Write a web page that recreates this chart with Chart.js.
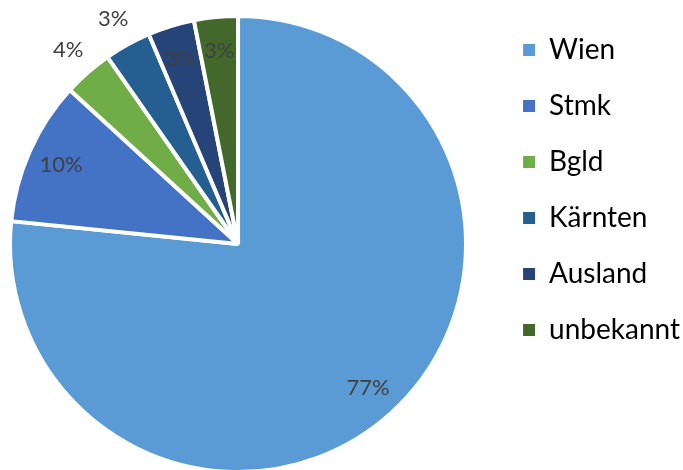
<!DOCTYPE html>
<html>
<head>
<meta charset="utf-8">
<script src="https://cdn.jsdelivr.net/npm/chart.js@4"></script>
<style>
  html, body { margin: 0; padding: 0; background: #fff; overflow: hidden; }
  body { width: 683px; height: 470px; position: relative; }
  #wrap { position: absolute; left: -19px; top: 0; width: 709px; height: 480px; }
</style>
</head>
<body>
<div id="wrap"><canvas id="chart"></canvas></div>
<script>
const regions = ['Wien', 'Stmk', 'Bgld', 'Kärnten', 'Ausland', 'unbekannt'];
const shares = [76.6, 10.2, 3.5, 3.3, 3.3, 3.1];
const colors = ['#5B9BD5', '#4472C4', '#70AD47', '#255E91', '#264478', '#43682B'];

// percentage labels, drawn inside the slice or just outside it
const pctLabels = {
  id: 'pctLabels',
  afterDatasetsDraw(chart, args, opts) {
    const ctx = chart.ctx;
    const meta = chart.getDatasetMeta(0);
    const data = chart.data.datasets[0].data;
    const total = data.reduce((a, b) => a + b, 0);
    ctx.save();
    ctx.font = opts.font;
    ctx.fillStyle = opts.color;
    ctx.textAlign = 'center';
    ctx.textBaseline = 'middle';
    meta.data.forEach((arc, i) => {
      const p = arc.getProps(['x', 'y', 'startAngle', 'endAngle', 'outerRadius'], true);
      const mid = (p.startAngle + p.endAngle) / 2;
      const r = p.outerRadius * (opts.outside.includes(i) ? 1.13 : 0.85);
      const txt = Math.round(data[i] / total * 100) + '%';
      ctx.fillText(txt, p.x + Math.cos(mid) * r, p.y + Math.sin(mid) * r);
    });
    ctx.restore();
  }
};

new Chart(document.getElementById('chart'), {
  type: 'pie',
  data: {
    labels: regions,
    datasets: [{
      data: shares,
      backgroundColor: colors,
      borderColor: '#ffffff',
      borderWidth: 4
    }]
  },
  options: {
    responsive: true,
    maintainAspectRatio: false,
    animation: false,
    radius: 228,
    layout: { padding: { top: 8, bottom: 0, left: 0, right: 0 } },
    plugins: {
      tooltip: { enabled: false },
      legend: {
        position: 'right',
        align: 'start',
        labels: {
          font: { family: 'Lato', size: 28 },
          color: '#000000',
          boxWidth: 12,
          boxHeight: 12,
          padding: 28,
          generateLabels: (chart) =>
            Chart.overrides.pie.plugins.legend.labels.generateLabels(chart)
              .map(l => ({ ...l, lineWidth: 0 }))
        }
      },
      pctLabels: {
        font: '22px Lato',
        color: '#404040',
        outside: [2, 3]
      }
    }
  },
  plugins: [pctLabels]
});
</script>
</body>
</html>
